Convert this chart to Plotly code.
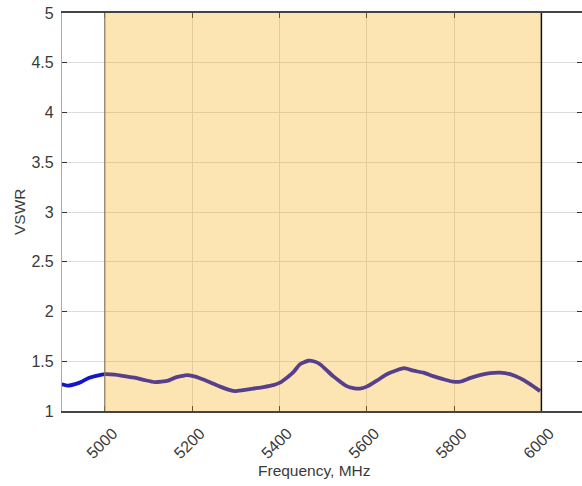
import plotly.graph_objects as go

# Measured VSWR of the antenna across the sweep
freq_mhz = [4900, 4916, 4932, 4947, 4962, 4978, 4993, 5000, 5023, 5046, 5069,
            5092, 5115, 5130, 5145, 5161, 5175, 5188, 5203, 5218, 5241, 5264,
            5287, 5298, 5317, 5340, 5363, 5386, 5401, 5417, 5432, 5447, 5466,
            5478, 5493, 5508, 5523, 5539, 5554, 5569, 5584, 5600, 5623, 5646,
            5669, 5686, 5707, 5730, 5752, 5775, 5798, 5814, 5836, 5859, 5882,
            5905, 5928, 5951, 5974, 5997]
vswr = [1.27, 1.255, 1.27, 1.295, 1.33, 1.35, 1.365, 1.37, 1.365, 1.35, 1.335,
        1.31, 1.29, 1.295, 1.305, 1.335, 1.35, 1.36, 1.35, 1.33, 1.29, 1.245,
        1.21, 1.20, 1.21, 1.225, 1.24, 1.26, 1.285, 1.335, 1.39, 1.47, 1.505,
        1.50, 1.47, 1.41, 1.35, 1.295, 1.25, 1.23, 1.225, 1.245, 1.305, 1.37,
        1.41, 1.43, 1.405, 1.385, 1.35, 1.32, 1.295, 1.295, 1.33, 1.36, 1.38,
        1.385, 1.37, 1.33, 1.27, 1.20]

band_mhz = [5000, 6000]          # highlighted operating band
x_ticks = [5000, 5200, 5400, 5600, 5800, 6000]
y_ticks = [1, 1.5, 2, 2.5, 3, 3.5, 4, 4.5, 5]

fig = go.Figure()
fig.add_trace(go.Scatter(
    x=freq_mhz, y=vswr, mode="lines",
    line=dict(color="#1414c8", width=3.8, shape="spline", smoothing=0.6),
    hoverinfo="skip", showlegend=False,
))

# Translucent band over the grid and the curve
fig.add_shape(type="rect", xref="x", yref="y",
              x0=band_mhz[0], x1=band_mhz[1], y0=1, y1=5,
              fillcolor="rgb(245,170,0)", opacity=0.3,
              line=dict(width=0), layer="above")
fig.add_shape(type="line", xref="x", yref="y",
              x0=band_mhz[0], x1=band_mhz[0], y0=1, y1=5,
              line=dict(color="#8a7c5c", width=1.2), layer="above")
fig.add_shape(type="line", xref="x", yref="y",
              x0=band_mhz[1], x1=band_mhz[1], y0=1, y1=5,
              line=dict(color="#111111", width=1.5), layer="above")

font = dict(family="Liberation Sans, Arial, sans-serif", color="#3a3a3a")

fig.update_layout(
    width=582, height=486,
    margin=dict(l=62, r=0, t=13, b=75),
    paper_bgcolor="white", plot_bgcolor="white",
    font=dict(size=16, **font),
    xaxis=dict(
        range=[4902, 6093], tickvals=x_ticks, ticktext=[str(v) for v in x_ticks],
        tickangle=-45, ticks="inside", ticklen=5, tickcolor="#333333",
        showgrid=True, gridcolor="#dcdcdc", gridwidth=1,
        showline=True, linecolor="#444444", linewidth=1.5, mirror="ticks",
        zeroline=False, tickfont=dict(size=16, **font),
        ticklabelshift=8, ticklabelstandoff=5,
    ),
    yaxis=dict(
        range=[1, 5], tickvals=y_ticks, ticktext=[f"{v:g}" for v in y_ticks],
        ticks="inside", ticklen=5, tickcolor="#333333",
        showgrid=True, gridcolor="#dcdcdc", gridwidth=1,
        showline=True, linecolor="#aaaaaa", linewidth=1.2, mirror="ticks",
        zeroline=False, ticklabelstandoff=4, tickfont=dict(size=16, **font),
    ),
    annotations=[
        dict(text="Frequency, MHz", xref="paper", yref="paper",
             x=0.485, y=0, yshift=-59, showarrow=False,
             font=dict(size=15.5, **font), yanchor="middle"),
        dict(text="VSWR", xref="paper", yref="paper",
             x=0, xshift=-43, y=0.5, textangle=-90, showarrow=False,
             font=dict(size=15.5, **font), xanchor="center"),
    ],
)

fig.write_html("out.html")
